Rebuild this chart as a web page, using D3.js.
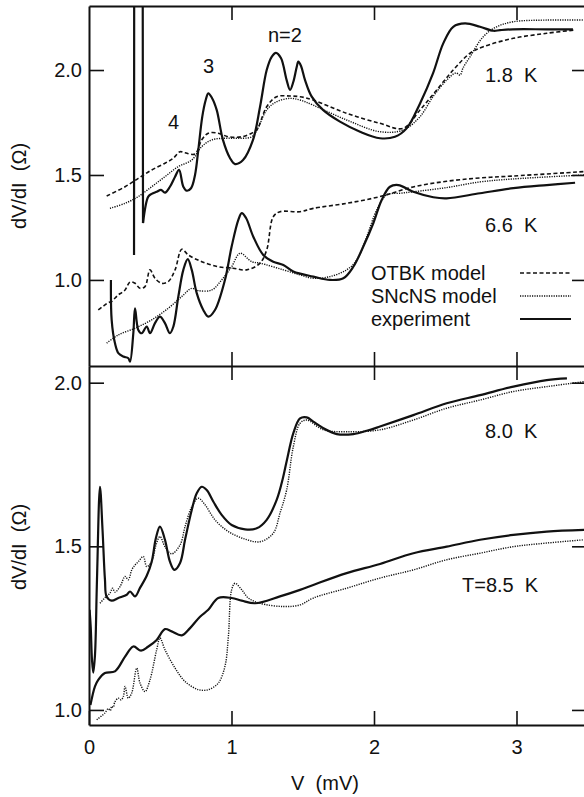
<!DOCTYPE html>
<html>
<head>
<meta charset="utf-8">
<script src="https://cdn.jsdelivr.net/npm/d3@7"></script>
<style>
  body { margin: 0; background: #fff; }
  svg text { font-family: "Liberation Sans", Arial, Helvetica, sans-serif; fill: #111; }
</style>
</head>
<body>
<div id="chart"></div>
<script>
const xTicks = [0, 1, 2, 3];
const yTicks = [1.0, 1.5, 2.0];

// upper panel: 1.8 K  [V (mV), dV/dI (ohm)]
// the off-scale spike near 0.35 mV is kept apart so it is drawn with straight segments
const exp18Spike = [[0.316,1.119],[0.317,2.35],[0.377,2.35],[0.379,1.271]];
const exp18 = [[0.379,1.271],[0.416,1.397],[0.440,1.410],[0.475,1.420],[0.505,1.429],[0.533,1.416],[0.568,1.444],[0.604,1.492],[0.632,1.524],[0.662,1.444],[0.686,1.425],[0.716,1.437],[0.744,1.500],[0.767,1.619],[0.795,1.778],[0.819,1.857],[0.837,1.889],[0.863,1.867],[0.896,1.810],[0.940,1.667],[0.989,1.581],[1.025,1.552],[1.081,1.571],[1.151,1.667],[1.200,1.824],[1.247,2.000],[1.282,2.063],[1.312,2.082],[1.347,2.057],[1.387,1.952],[1.411,1.905],[1.434,1.944],[1.458,2.016],[1.469,2.040],[1.488,2.019],[1.516,1.952],[1.563,1.873],[1.642,1.810],[1.761,1.754],[1.902,1.706],[2.042,1.675],[2.147,1.682],[2.229,1.722],[2.323,1.841],[2.414,1.984],[2.486,2.127],[2.556,2.206],[2.639,2.222],[2.744,2.206],[2.837,2.187],[2.884,2.190],[2.975,2.194],[3.212,2.194],[3.396,2.194]];
const otbk18 = [[0.124,1.400],[0.253,1.444],[0.346,1.484],[0.440,1.524],[0.533,1.556],[0.592,1.580],[0.639,1.611],[0.674,1.606],[0.744,1.600],[0.791,1.667],[0.837,1.699],[0.907,1.699],[0.978,1.682],[1.072,1.682],[1.142,1.699],[1.177,1.714],[1.247,1.825],[1.317,1.873],[1.411,1.876],[1.481,1.873],[1.572,1.857],[1.808,1.794],[2.042,1.746],[2.204,1.722],[2.323,1.810],[2.440,1.905],[2.556,2.000],[2.674,2.080],[2.767,2.111],[2.978,2.151],[3.212,2.175],[3.399,2.190]];
const sncns18 = [[0.147,1.341],[0.253,1.365],[0.346,1.397],[0.440,1.444],[0.533,1.492],[0.627,1.540],[0.721,1.571],[0.791,1.635],[0.861,1.667],[0.954,1.675],[1.048,1.675],[1.142,1.682],[1.186,1.724],[1.247,1.810],[1.317,1.849],[1.411,1.865],[1.481,1.857],[1.572,1.833],[1.808,1.762],[2.042,1.706],[2.204,1.714],[2.323,1.778],[2.414,1.873],[2.510,1.952],[2.575,1.986],[2.604,1.976],[2.625,2.010],[2.674,2.063],[2.767,2.159],[2.861,2.206],[2.978,2.230],[3.212,2.238],[3.474,2.238]];

// upper panel: 6.6 K
const exp66 = [[0.154,1.000],[0.159,0.810],[0.182,0.699],[0.206,0.651],[0.241,0.635],[0.276,0.627],[0.288,0.611],[0.311,0.746],[0.323,0.865],[0.346,0.762],[0.370,0.746],[0.405,0.778],[0.428,0.746],[0.463,0.794],[0.498,0.825],[0.533,0.794],[0.568,0.746],[0.592,0.778],[0.627,0.921],[0.662,1.048],[0.693,1.099],[0.721,1.048],[0.756,0.937],[0.802,0.857],[0.837,0.825],[0.884,0.857],[0.954,1.000],[1.001,1.159],[1.048,1.286],[1.072,1.318],[1.102,1.295],[1.153,1.206],[1.223,1.119],[1.293,1.087],[1.364,1.071],[1.434,1.040],[1.574,1.016],[1.691,1.000],[1.785,1.008],[1.855,1.063],[1.925,1.159],[1.995,1.270],[2.054,1.381],[2.112,1.444],[2.171,1.452],[2.276,1.420],[2.416,1.394],[2.510,1.389],[2.744,1.413],[2.978,1.437],[3.212,1.452],[3.411,1.463]];
const otbk66 = [[0.065,0.857],[0.090,0.870],[0.112,0.881],[0.135,0.892],[0.159,0.897],[0.185,0.915],[0.206,0.929],[0.230,0.940],[0.253,0.952],[0.288,0.990],[0.323,0.984],[0.358,0.960],[0.393,0.968],[0.428,1.048],[0.463,1.008],[0.510,0.984],[0.556,0.992],[0.604,1.048],[0.651,1.146],[0.697,1.119],[0.791,1.087],[0.907,1.063],[1.011,1.056],[1.107,1.048],[1.200,1.080],[1.247,1.143],[1.293,1.301],[1.340,1.325],[1.481,1.325],[1.574,1.341],[1.808,1.365],[2.042,1.397],[2.274,1.443],[2.510,1.470],[2.744,1.486],[2.975,1.495],[3.474,1.516]];
const sncns66 = [[0.124,0.699],[0.206,0.738],[0.323,0.770],[0.440,0.810],[0.556,0.865],[0.651,0.921],[0.721,0.960],[0.767,0.949],[0.861,0.952],[0.931,1.000],[1.001,1.063],[1.060,1.127],[1.142,1.087],[1.200,1.080],[1.364,1.048],[1.481,1.024],[1.574,1.008],[1.691,1.016],[1.808,1.048],[1.879,1.095],[1.949,1.206],[2.019,1.333],[2.089,1.405],[2.182,1.413],[2.276,1.420],[2.510,1.440],[2.744,1.467],[2.975,1.481],[3.474,1.500]];

// lower panel: 8.0 K
const exp80 = [[0.004,1.306],[0.012,1.254],[0.021,1.153],[0.030,1.114],[0.042,1.168],[0.056,1.398],[0.077,1.682],[0.095,1.550],[0.112,1.398],[0.124,1.346],[0.159,1.334],[0.206,1.342],[0.265,1.352],[0.288,1.362],[0.323,1.347],[0.358,1.373],[0.405,1.410],[0.440,1.453],[0.470,1.526],[0.498,1.560],[0.533,1.520],[0.568,1.453],[0.599,1.428],[0.639,1.449],[0.674,1.520],[0.721,1.611],[0.756,1.662],[0.791,1.682],[0.826,1.672],[0.872,1.637],[0.931,1.596],[1.001,1.565],[1.095,1.552],[1.177,1.555],[1.247,1.581],[1.317,1.642],[1.361,1.709],[1.389,1.764],[1.434,1.846],[1.481,1.891],[1.528,1.894],[1.574,1.881],[1.645,1.861],[1.739,1.843],[1.855,1.843],[1.949,1.853],[2.042,1.866],[2.276,1.901],[2.510,1.937],[2.744,1.962],[2.978,1.988],[3.212,2.008],[3.354,2.013]];
const sncns80 = [[0.077,1.326],[0.112,1.343],[0.147,1.357],[0.165,1.372],[0.182,1.360],[0.218,1.377],[0.253,1.408],[0.276,1.398],[0.300,1.428],[0.323,1.443],[0.346,1.453],[0.381,1.469],[0.405,1.438],[0.440,1.453],[0.470,1.504],[0.498,1.530],[0.533,1.499],[0.580,1.477],[0.639,1.504],[0.674,1.560],[0.721,1.621],[0.767,1.647],[0.814,1.627],[0.884,1.581],[0.978,1.545],[1.095,1.522],[1.200,1.514],[1.293,1.540],[1.340,1.601],[1.387,1.672],[1.434,1.805],[1.481,1.876],[1.528,1.886],[1.645,1.856],[1.808,1.850],[2.042,1.856],[2.276,1.886],[2.510,1.922],[2.744,1.947],[2.978,1.973],[3.212,1.988],[3.474,2.003]];

// lower panel: 8.5 K
const exp85 = [[0.010,1.015],[0.042,1.072],[0.065,1.092],[0.112,1.113],[0.182,1.118],[0.253,1.163],[0.311,1.194],[0.365,1.181],[0.414,1.193],[0.475,1.214],[0.533,1.247],[0.580,1.240],[0.651,1.228],[0.709,1.250],[0.779,1.285],[0.837,1.306],[0.907,1.342],[1.001,1.342],[1.072,1.334],[1.165,1.326],[1.340,1.347],[1.481,1.367],[1.574,1.382],[1.808,1.418],[2.042,1.446],[2.276,1.479],[2.510,1.499],[2.744,1.520],[2.978,1.535],[3.212,1.545],[3.474,1.550]];
const sncns85 = [[0.054,0.970],[0.112,0.991],[0.135,1.004],[0.150,0.998],[0.159,1.011],[0.170,1.008],[0.182,1.025],[0.206,1.036],[0.225,1.031],[0.241,1.041],[0.253,1.072],[0.276,1.036],[0.300,1.052],[0.335,1.128],[0.358,1.082],[0.393,1.056],[0.428,1.092],[0.475,1.184],[0.498,1.220],[0.533,1.184],[0.604,1.128],[0.674,1.087],[0.767,1.062],[0.837,1.062],[0.907,1.082],[0.954,1.133],[0.978,1.224],[1.001,1.367],[1.025,1.387],[1.072,1.367],[1.118,1.342],[1.200,1.326],[1.364,1.316],[1.481,1.321],[1.574,1.342],[1.808,1.372],[2.042,1.403],[2.276,1.428],[2.510,1.459],[2.744,1.479],[2.978,1.499],[3.212,1.510],[3.474,1.520]];

const legendLabels = ["OTBK model", "SNcNS model", "experiment"];

const FONT = '"Liberation Sans", Arial, Helvetica, sans-serif';
const W = 584, H = 797;
const left = 89, right = 584;
const topY = 6, midY = 366, botY = 725;

const x = d3.scaleLinear().domain([0, 3.5]).range([left, left + 3.5 * 142.5]);
const yTop = d3.scaleLinear().domain([0.59, 2.305]).range([midY, topY]);
const yBot = d3.scaleLinear().domain([0.954, 2.051]).range([botY, midY]);

const styles = {
  exp:   { width: 2.2, dash: null },
  otbk:  { width: 1.6, dash: "4,2.5" },
  sncns: { width: 1.4, dash: "1.2,1.2" }
};

const svg = d3.select("#chart").append("svg")
  .attr("width", W)
  .attr("height", H);

const defs = svg.append("defs");
defs.append("clipPath").attr("id", "clipTop").append("rect")
  .attr("x", left).attr("y", topY).attr("width", right - left).attr("height", midY - topY);
defs.append("clipPath").attr("id", "clipBot").append("rect")
  .attr("x", left).attr("y", midY).attr("width", right - left).attr("height", botY - midY);

function drawPanel(y, clipId, list) {
  const smooth = d3.line()
    .x(d => x(d[0]))
    .y(d => y(d[1]))
    .curve(d3.curveCatmullRom.alpha(0.5));
  const straight = d3.line()
    .x(d => x(d[0]))
    .y(d => y(d[1]));
  const g = svg.append("g").attr("clip-path", `url(#${clipId})`);
  list.forEach(([data, kind, linear]) => {
    g.append("path")
      .datum(data)
      .attr("d", linear ? straight : smooth)
      .attr("fill", "none")
      .attr("stroke", "#111")
      .attr("stroke-width", styles[kind].width)
      .attr("stroke-dasharray", styles[kind].dash)
      .attr("stroke-linejoin", "round");
  });
}

drawPanel(yTop, "clipTop", [[sncns18, "sncns"], [otbk18, "otbk"], [exp18Spike, "exp", true], [exp18, "exp"],
                             [sncns66, "sncns"], [otbk66, "otbk"], [exp66, "exp"]]);
drawPanel(yBot, "clipBot", [[sncns80, "sncns"], [exp80, "exp"],
                             [sncns85, "sncns"], [exp85, "exp"]]);

function styleAxis(g, removeDomain) {
  g.attr("font-family", FONT).attr("font-size", 20);
  g.selectAll("path.domain").attr("stroke", "#111").attr("stroke-width", 2);
  if (removeDomain) g.select("path.domain").remove();
  g.selectAll(".tick line").attr("stroke", "#111").attr("stroke-width", 1.6);
  g.selectAll(".tick text").attr("fill", "#111");
}

const fmt = d3.format(".1f");
[yTop, yBot].forEach(y => {
  svg.append("g")
    .attr("transform", `translate(${left},0)`)
    .call(d3.axisLeft(y).tickValues(yTicks).tickSize(-15).tickSizeOuter(0).tickPadding(7).tickFormat(fmt))
    .call(g => styleAxis(g, false));
  svg.append("g")
    .attr("transform", `translate(${right},0)`)
    .call(d3.axisRight(y).tickValues(yTicks).tickSize(-12).tickFormat(""))
    .call(g => styleAxis(g, true));
});

const inner = xTicks.filter(d => d > 0);
svg.append("g")
  .attr("transform", `translate(0,${topY})`)
  .call(d3.axisTop(x).tickValues(inner).tickSize(-14).tickSizeOuter(0).tickFormat(""))
  .call(g => styleAxis(g, false));
svg.append("g")
  .attr("transform", `translate(0,${midY})`)
  .call(d3.axisBottom(x).tickValues(inner).tickSize(-14).tickSizeOuter(0).tickFormat(""))
  .call(g => styleAxis(g, false));
svg.append("g")
  .attr("transform", `translate(0,${midY})`)
  .call(d3.axisTop(x).tickValues(inner).tickSize(-14).tickSizeOuter(0).tickFormat(""))
  .call(g => styleAxis(g, true));
svg.append("g")
  .attr("transform", `translate(0,${botY})`)
  .call(d3.axisBottom(x).tickValues(xTicks).tickSize(-14).tickSizeOuter(0).tickPadding(15).tickFormat(d3.format("d")))
  .call(g => styleAxis(g, false));

// axis titles
const txt = (sel) => sel.attr("font-family", FONT).attr("font-size", 20).style("white-space", "pre");
[186, 547].forEach(cy => {
  svg.append("text")
    .attr("transform", `translate(26,${cy}) rotate(-90)`)
    .attr("text-anchor", "middle")
    .text("dV/dI  (\u03A9)")
    .call(txt);
});
svg.append("text")
  .attr("x", 325).attr("y", 790)
  .attr("text-anchor", "middle")
  .text("V  (mV)")
  .call(txt);

// annotations
const notes = [
  ["n=2", 268, 42], ["3", 203, 73], ["4", 168, 128.5],
  ["1.8  K", 485, 82], ["6.6  K", 485, 232],
  ["8.0  K", 485, 438], ["T=8.5  K", 462, 592]
];
notes.forEach(([t, nx, ny]) => {
  svg.append("text").attr("x", nx).attr("y", ny).text(t).call(txt);
});

// legend
const legendKinds = ["otbk", "sncns", "exp"];
legendLabels.forEach((label, i) => {
  const ly = 280 + i * 23;
  svg.append("text").attr("x", 371).attr("y", ly).text(label).call(txt);
  svg.append("line")
    .attr("x1", 520).attr("x2", 571)
    .attr("y1", ly - 7).attr("y2", ly - 7)
    .attr("stroke", "#111")
    .attr("stroke-width", styles[legendKinds[i]].width)
    .attr("stroke-dasharray", styles[legendKinds[i]].dash);
});
</script>
</body>
</html>
